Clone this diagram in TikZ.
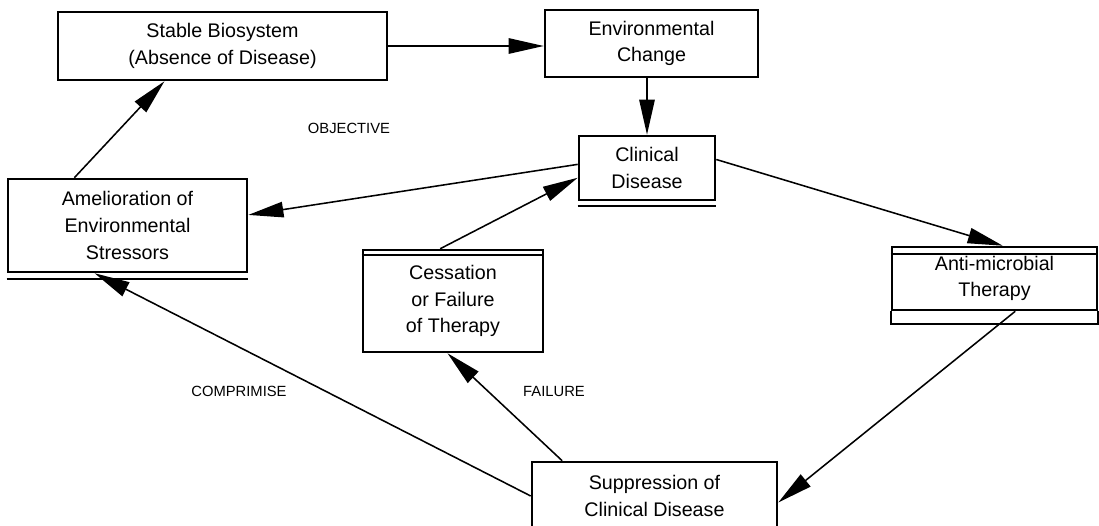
\documentclass[tikz,border=0pt]{standalone}
\usepackage{fontspec}
\setmainfont{Liberation Sans}
\usetikzlibrary{arrows.meta, calc}
\newcommand{\diagfont}{\fontsize{14}{19}\selectfont}
\newcommand{\tagfont}{\fontsize{10.5}{12}\selectfont}

\begin{document}
\begin{tikzpicture}[x=0.025cm, y=-0.025cm,
        >={Triangle[length=25pt, width=11pt]},
        box/.style={draw, line width=1.8pt, align=center, font=\diagfont, inner sep=0pt},
        arr/.style={->, line width=1.1pt},
        strip/.style={line width=1.5pt},
        tag/.style={font=\tagfont},
    ]
    \clip (0,0) rectangle (1099,526);
    \node[box, minimum width=8.225cm, minimum height=1.7cm] (stab) at (222.5, 46)
        {Stable Biosystem\\(Absence of Disease)};
    \node[box, minimum width=5.325cm, minimum height=1.675cm] (envc) at (651.5, 43.5)
        {Environmental\\Change};
    \node[box, minimum width=3.4cm, minimum height=1.6cm] (clin) at (647, 168)
        {Clinical\\Disease};
    \node[box, minimum width=5.975cm, minimum height=2.325cm] (amel) at (127.5, 225.5)
        {Amelioration of\\Environmental\\Stressors};
    \node[box, minimum width=4.5cm, minimum height=2.55cm] (cess) at (453, 301)
        {Cessation\\or Failure\\of Therapy};
    \node[box, minimum width=5.125cm, minimum height=1.575cm] (anti) at (994.5, 278.5)
        {Anti-microbial\\Therapy};
    \node[box, minimum width=6.125cm, minimum height=1.7cm] (supp) at (654.5, 496)
        {Suppression of\\Clinical Disease};
    % doubled edges
    \draw[strip] ($(clin.south west)+(0,5)$) -- ($(clin.south east)+(0,5)$);
    \draw[strip] ($(amel.south west)+(0,6)$) -- ($(amel.south east)+(0,6)$);
    \draw[strip] ($(cess.north west)+(0,6)$) -- ($(cess.north east)+(0,6)$);
    \draw[strip] ($(anti.north west)+(0,8)$) -- ($(anti.north east)+(0,8)$);
    \draw[strip] (anti.south west) -- ++(0,13) -| (anti.south east);
    % cycle
    \draw[arr] (stab.east) -- (stab.east -| envc.west);
    \draw[arr] (clin.north |- envc.south) -- (clin.north);
    \draw[arr] (clin.177) -- (amel.5);
    \draw[arr] ($(cess.north west)!0.43!(cess.north east)$) -- (clin.188);
    \draw[arr] (clin.7) -- ($(anti.north west)!0.54!(anti.north east)$);
    \draw[arr] ($(amel.north west)!0.28!(amel.north east)$) -- ($(stab.south west)!0.325!(stab.south east)$);
    \draw[arr] ($(anti.south west)!0.6!(anti.south east)$) -- (supp.-3);
    \draw[arr] (supp.west) -- ($(amel.south west)!0.364!(amel.south east)$);
    \draw[arr] ($(supp.north west)!0.127!(supp.north east)$) -- ($(cess.south west)!0.47!(cess.south east)$);
    \node[tag] (obj) at (349, 128) {OBJECTIVE};
    \node[tag] (comp) at (239, 391) {COMPRIMISE};
    \node[tag] (fail) at (554, 391) {FAILURE};
\end{tikzpicture}
\end{document}
